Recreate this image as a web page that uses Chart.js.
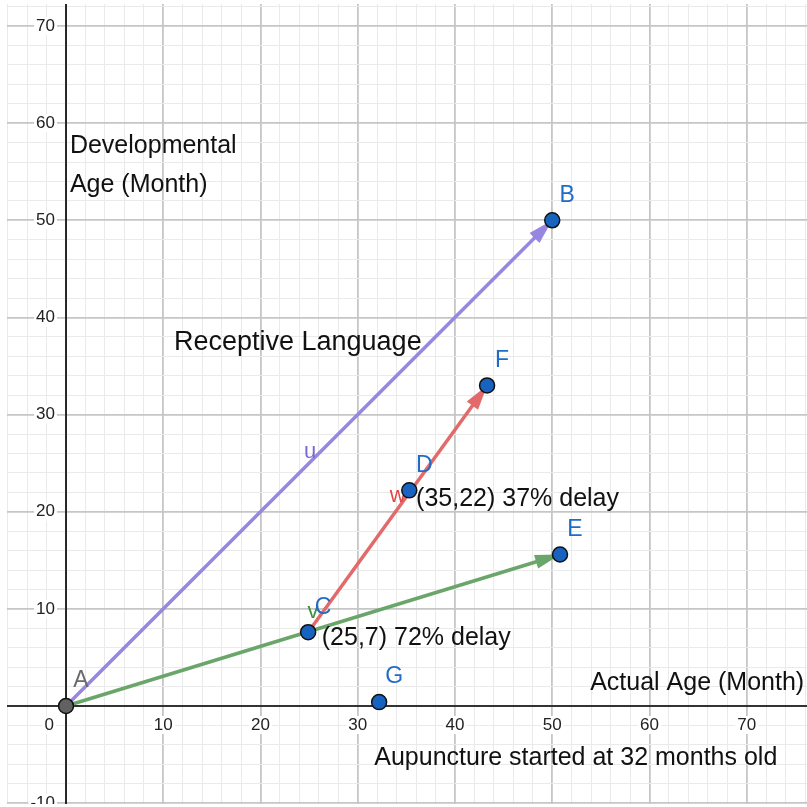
<!DOCTYPE html>
<html>
<head>
<meta charset="utf-8">
<script src="https://cdn.jsdelivr.net/npm/chart.js@4.4.1/dist/chart.umd.min.js"></script>
<style>
  html, body { margin: 0; background: #fff; width: 807px; height: 807px; overflow: hidden; }
  /* chart.js keeps ~9px round the plot for the dots, so shift the canvas to put the grid where the original has it */
  #chart { display: block; position: absolute; left: -2px; top: -5px; }
</style>
</head>
<body>
<canvas id="chart" width="818" height="818"></canvas>
<script>
// points
const pointNames = ['A', 'B', 'C', 'D', 'E', 'F', 'G'];
const pointX = [0, 50, 24.9, 35.3, 50.8, 43.3, 32.2];
const pointY = [0, 50, 7.6, 22.2, 15.6, 33, 0.4];

// vectors: name, start point, end point
const vectorNames = ['u', 'v', 'w'];
const vectorFrom = ['A', 'A', 'C'];
const vectorTo = ['B', 'E', 'F'];

// axis labels
const xTickLabels = [10, 20, 30, 40, 50, 60, 70];
const yTickLabels = [-10, 10, 20, 30, 40, 50, 60, 70];

// free text on the graph (anchored in graph units)
const notes = ['Developmental', 'Age (Month)', 'Receptive Language', '(35,22) 37% delay',
               '(25,7) 72% delay', 'Actual Age (Month)', 'Aupuncture started at 32 months old'];
const noteX = [0.4, 0.4, 11.1, 36.0, 26.3, 53.9, 31.7];
const noteY = [56.9, 52.9, 36.6, 20.6, 6.3, 1.65, -6.1];

const FONT = '"Liberation Sans", Arial, sans-serif';
const VEC_COLOR = { u: '#9787e2', v: '#6aa66a', w: '#e26a6a' };
const VEC_LABEL = { u: { color: '#7a68d6', dx: 1, dy: -11 }, v: { color: '#3f8f3f', dx: 0, dy: -18 }, w: { color: '#e04848', dx: 0, dy: -13 } };

function pt(name) {
    const i = pointNames.indexOf(name);
    return { x: pointX[i], y: pointY[i] };
}

const vectorSets = vectorNames.map((v, i) => ({
    label: v,
    vec: v,
    data: [pt(vectorFrom[i]), pt(vectorTo[i])],
    showLine: true,
    borderColor: VEC_COLOR[v],
    borderWidth: 3.5,
    pointRadius: 0,
    order: 2
}));

const blueSet = {
    label: 'points',
    data: pointNames.filter(n => n !== 'A').map(pt),
    backgroundColor: '#1863c0',
    borderColor: '#111',
    borderWidth: 1.5,
    pointRadius: 7.5,
    order: 0
};
const originSet = {
    label: 'A',
    data: [pt('A')],
    backgroundColor: '#616161',
    borderColor: '#111',
    borderWidth: 1.5,
    pointRadius: 7.5,
    order: 0
};

function gridColor(c) {
    const v = Math.round(c.tick.value * 1000) / 1000;
    return v % 10 === 0 ? '#c6c6c6' : '#eaeaea';
}
function gridWidth(c) {
    const v = Math.round(c.tick.value * 1000) / 1000;
    return v % 10 === 0 ? 1.8 : 1;
}

const geoPlugin = {
    id: 'geo',
    beforeDatasetsDraw(chart) {
        const { ctx, chartArea: a, scales: { x, y } } = chart;
        const x0 = x.getPixelForValue(0), y0 = y.getPixelForValue(0);
        ctx.save();
        ctx.beginPath();
        ctx.rect(a.left, a.top, a.right - a.left, a.bottom - a.top);
        ctx.clip();
        // axes
        ctx.strokeStyle = '#000';
        ctx.lineWidth = 1.6;
        ctx.beginPath();
        ctx.moveTo(a.left, y0); ctx.lineTo(a.right, y0);
        ctx.moveTo(x0, a.top); ctx.lineTo(x0, a.bottom);
        ctx.stroke();
        // tick labels
        ctx.font = '17px ' + FONT;
        ctx.textBaseline = 'middle';
        const label = (txt, px, py, align) => {
            ctx.textAlign = align;
            const w = ctx.measureText(txt).width;
            const left = align === 'right' ? px - w : px - w / 2;
            ctx.fillStyle = '#fff';
            ctx.fillRect(left - 2, py - 9, w + 4, 18);
            ctx.fillStyle = '#222';
            ctx.fillText(txt, px, py);
        };
        yTickLabels.forEach(v => label(String(v), x0 - 11, y.getPixelForValue(v), 'right'));
        xTickLabels.forEach(v => label(String(v), x.getPixelForValue(v), y0 + 19, 'center'));
        label('0', x0 - 12, y0 + 19, 'right');
        ctx.restore();
    },
    afterDatasetDraw(chart, args) {
        const ds = chart.data.datasets[args.index];
        if (!ds.vec) return;
        const { ctx, scales: { x, y } } = chart;
        const p0 = { x: x.getPixelForValue(ds.data[0].x), y: y.getPixelForValue(ds.data[0].y) };
        const p1 = { x: x.getPixelForValue(ds.data[1].x), y: y.getPixelForValue(ds.data[1].y) };
        const ang = Math.atan2(p1.y - p0.y, p1.x - p0.x);
        ctx.save();
        ctx.translate(p1.x, p1.y);
        ctx.rotate(ang);
        ctx.beginPath();
        ctx.moveTo(0, 0);
        ctx.lineTo(-25, -7);
        ctx.lineTo(-25, 7);
        ctx.closePath();
        ctx.fillStyle = ds.borderColor;
        ctx.fill();
        ctx.restore();
        // vector name
        const st = VEC_LABEL[ds.vec];
        ctx.save();
        ctx.font = '22px ' + FONT;
        ctx.fillStyle = st.color;
        ctx.textAlign = 'center';
        ctx.textBaseline = 'middle';
        ctx.fillText(ds.vec, (p0.x + p1.x) / 2 + st.dx, (p0.y + p1.y) / 2 + st.dy);
        ctx.restore();
    },
    afterDatasetsDraw(chart) {
        const { ctx, scales: { x, y } } = chart;
        ctx.save();
        ctx.textAlign = 'center';
        ctx.textBaseline = 'middle';
        ctx.font = '23px ' + FONT;
        pointNames.forEach((n, i) => {
            ctx.fillStyle = n === 'A' ? '#6a6a6a' : '#1f6cc8';
            ctx.fillText(n, x.getPixelForValue(pointX[i]) + 15, y.getPixelForValue(pointY[i]) - 25);
        });
        ctx.textAlign = 'left';
        ctx.textBaseline = 'alphabetic';
        ctx.fillStyle = '#111';
        notes.forEach((t, i) => {
            ctx.font = (t === 'Receptive Language' ? '27px ' : '25px ') + FONT;
            ctx.fillText(t, x.getPixelForValue(noteX[i]), y.getPixelForValue(noteY[i]));
        });
        ctx.restore();
    }
};

new Chart(document.getElementById('chart'), {
    type: 'scatter',
    data: { datasets: [blueSet, originSet, ...vectorSets] },
    options: {
        responsive: false,
        animation: false,
        devicePixelRatio: 1,
        layout: { padding: 0 },
        plugins: { legend: { display: false }, tooltip: { enabled: false } },
        scales: {
            x: {
                type: 'linear', min: -6.07, max: 76.2,
                ticks: { display: false, stepSize: 2, includeBounds: false },
                grid: { color: gridColor, lineWidth: gridWidth, drawTicks: false },
                border: { display: false }
            },
            y: {
                type: 'linear', min: -10.09, max: 72.27,
                ticks: { display: false, stepSize: 2, includeBounds: false },
                grid: { color: gridColor, lineWidth: gridWidth, drawTicks: false },
                border: { display: false }
            }
        }
    },
    plugins: [geoPlugin]
});
</script>
</body>
</html>
